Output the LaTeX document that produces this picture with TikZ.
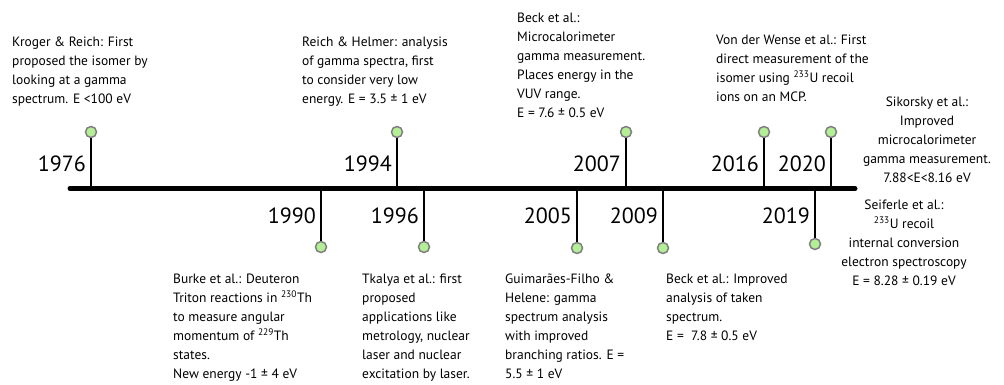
\documentclass[tikz,border=0pt]{standalone}
\usepackage{fontspec}
\setmainfont{PT Sans}
\definecolor{dotgreen}{HTML}{B4EE96}
\tikzset{
  note/.style={font=\fontsize{13.5}{19}\selectfont, align=left, inner sep=0pt, anchor=north west},
  cnote/.style={note, align=center, anchor=north},
  year/.style={font=\fontsize{22}{26}\selectfont, inner sep=0pt, anchor=east},
  dot/.style={circle, draw=gray, fill=dotgreen, line width=1.5pt, minimum size=11pt, inner sep=0pt},
  stem/.style={line width=1.8pt},
}
\begin{document}
\begin{tikzpicture}[x=1pt,y=-1pt]
  \useasboundingbox (0,0) rectangle (1004,385);
  % time axis
  \coordinate (start) at (70,188.5);
  \coordinate (end) at (855,188.5);
  % events above the axis
  \foreach \x/\yr in {91/1976,397/1994,626/2007,764/2016,831/2020}{
    \coordinate (t\yr) at (\x,188.5);
    \node[dot] (d\yr) at (\x,132) {};
    \draw[stem] (d\yr) -- (t\yr);
    \node[year] (y\yr) at (\x-5,164) {\yr};
  }
  % events below the axis
  \foreach \x/\yr/\h in {321/1990/247,424/1996/247,577/2005/248,663/2009/248,815/2019/244}{
    \coordinate (t\yr) at (\x,188.5);
    \node[dot] (d\yr) at (\x,\h) {};
    \draw[stem] (t\yr) -- (d\yr);
    \node[year] (y\yr) at (\x-5,215.5) {\yr};
  }
  \draw[line width=5pt,line cap=round] (start) -- (end);
  % descriptions
  \node[note] (n1976) at (12,37) {Kroger \& Reich: First\\proposed the isomer by\\looking at a gamma\\spectrum. E <100 eV};
  \node[note] (n1994) at (302,37) {Reich \& Helmer: analysis\\of gamma spectra, first\\to consider very low\\energy. E = 3.5 ± 1 eV};
  \node[note] (n2007) at (517,13) {Beck et al.:\\Microcalorimeter\\gamma measurement.\\Places energy in the\\VUV range.\\E = 7.6 ± 0.5 eV};
  \node[note] (n2016) at (716,35) {Von der Wense et al.: First\\direct measurement of the\\isomer using \textsuperscript{233}U recoil\\ions on an MCP.};
  \node[cnote] (n2020) at (927,97) {Sikorsky et al.:\\Improved\\microcalorimeter\\gamma measurement.\\7.88<E<8.16 eV};
  \node[note] (n1990) at (173,274) {Burke et al.: Deuteron\\Triton reactions in \textsuperscript{230}Th\\to measure angular\\momentum of \textsuperscript{229}Th\\states.\\New energy -1 ± 4 eV};
  \node[note] (n1996) at (362,274) {Tkalya et al.: first\\proposed\\applications like\\metrology, nuclear\\laser and nuclear\\excitation by laser.};
  \node[note] (n2005) at (505,274) {Guimarães-Filho \&\\Helene: gamma\\spectrum analysis\\with improved\\branching ratios. E =\\5.5 ± 1 eV};
  \node[note] (n2009) at (666,274) {Beck et al.: Improved\\analysis of taken\\spectrum.\\E = ~7.8 ± 0.5 eV};
  \node[cnote] (n2019) at (904,200) {Seiferle et al.:\\\textsuperscript{233}U recoil\\internal conversion\\electron spectroscopy\\E = 8.28 ± 0.19 eV};
\end{tikzpicture}
\end{document}
